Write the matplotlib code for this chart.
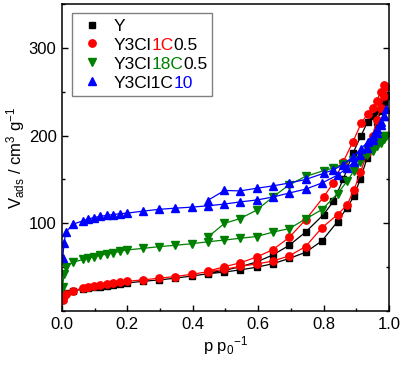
import matplotlib
matplotlib.use("Agg")
import matplotlib.pyplot as plt
from matplotlib.ticker import MultipleLocator

plt.rcParams["font.family"] = ["Liberation Sans", "DejaVu Sans"]
plt.rcParams["mathtext.fontset"] = "custom"
plt.rcParams["mathtext.rm"] = "Liberation Sans"
plt.rcParams["mathtext.it"] = "Liberation Sans"

# relative pressure, adsorption branch then desorption branch
x_ads = [0.002, 0.006, 0.012, 0.033, 0.065, 0.08, 0.097, 0.116, 0.136, 0.156, 0.177, 0.198,
         0.249, 0.297, 0.346, 0.397, 0.445, 0.497, 0.545, 0.595, 0.645, 0.695, 0.745, 0.795,
         0.843, 0.872, 0.893, 0.913, 0.933, 0.95, 0.963, 0.975, 0.985, 0.992]
x_des = [0.985, 0.975, 0.963, 0.95, 0.935, 0.915, 0.89, 0.86, 0.83, 0.8, 0.745, 0.695,
         0.645, 0.595, 0.545, 0.497, 0.445]

y_Y_ads = [14, 18, 21, 23, 25, 26, 27, 28, 29, 30, 31, 32, 34, 35.5, 37.5, 40, 42.5, 44.5,
           47, 50, 54, 60, 67, 80, 102, 118, 131, 151, 174, 198, 215, 228, 238, 245]
y_Y_des = [242, 236, 228, 222, 216, 200, 180, 150, 125, 110, 90, 75, 64, 56, 50.5, 46.5, 43.5]

y_1C_ads = [13, 17, 20, 23, 26.5, 27.5, 29, 30, 31, 32, 33, 34, 35.6, 37.5, 39.4, 42, 44.8,
            47.6, 51, 53.7, 57, 63, 73.5, 95, 110, 121, 138, 158, 180, 200, 218, 232, 245, 255]
y_1C_des = [258, 250, 240, 232, 225, 214, 193, 170, 146, 130, 104, 84, 70, 61.6, 55, 50.6, 45.5]

y_18C_ads = [28, 42, 50.6, 55.6, 59, 60.5, 62, 63.5, 65, 66.5, 68, 69.7, 71.5, 73.5, 75, 76.8,
             79, 81, 83, 85, 90, 94, 105, 115.6, 134, 148, 160, 170, 178, 183, 188, 192, 196, 200]
y_18C_des = [200, 195, 190, 187, 182, 176, 172, 168, 163, 160, 153.5, 144, 130, 115, 105.5, 100, 84]

y_10_ads = [60, 78, 90, 99, 103, 105, 106.5, 108, 109, 110, 111, 111.6, 114, 116, 117.3, 118.5,
            120, 122, 124.5, 126.6, 130, 134.6, 139, 146, 155, 163, 170, 178, 186, 195, 203,
            212, 222, 230]
y_10_des = [222, 215, 207, 200, 193, 185, 176, 167, 161, 157, 150, 146, 142.7, 140, 137,
            137.5, 126]

series = [
    ("Y", y_Y_ads, y_Y_des, "black", "s", 4.5),
    ("Y3Cl1C0.5", y_1C_ads, y_1C_des, "#ff0000", "o", 5.3),
    ("Y3Cl18C0.5", y_18C_ads, y_18C_des, "#008000", "v", 5.8),
    ("Y3Cl1C10", y_10_ads, y_10_des, "#0000ff", "^", 5.8),
]

fig = plt.figure(figsize=(4.03, 3.66), dpi=100)
ax = fig.add_axes([0.154, 0.150, 0.811, 0.839])

for name, ya, yd, col, mk, ms in series:
    ax.plot(x_ads + x_des, ya + yd, color=col, marker=mk, markersize=ms, lw=0.9,
            label=name)

ax.set_xlim(0, 1.0)
ax.set_ylim(0, 350)
ax.set_xticks([0, 0.2, 0.4, 0.6, 0.8, 1.0])
ax.set_xticklabels(["0.0", "0.2", "0.4", "0.6", "0.8", "1.0"])
ax.xaxis.set_minor_locator(MultipleLocator(0.1))
ax.set_yticks([100, 200, 300])
ax.yaxis.set_minor_locator(MultipleLocator(50))
ax.tick_params(which="both", direction="in", right=True, top=False, width=1.0,
               labelsize=12)
ax.tick_params(which="major", length=4, pad=4)
ax.tick_params(which="minor", length=2.5)
for s in ax.spines.values():
    s.set_linewidth(1.1)

ax.set_xlabel(r"p p$_0$$^{-1}$", fontsize=12, labelpad=2)
ax.set_ylabel(r"V$_{\rm ads}$ / cm$^3$ g$^{-1}$", fontsize=12, labelpad=1)

leg = ax.legend(loc="upper left", bbox_to_anchor=(0.03, 0.97), fontsize=12.5,
                frameon=True, fancybox=False, edgecolor="gray", framealpha=1,
                handlelength=1.7, handletextpad=0.4, labelspacing=0.22,
                borderpad=0.3, borderaxespad=0)
leg.get_frame().set_linewidth(1.0)
for h in leg.get_lines():
    h.set_linestyle("none")

# multi-coloured legend labels
pieces = {
    1: [("Y3Cl", "black"), ("1C", "#ff0000"), ("0.5", "black")],
    2: [("Y3Cl", "black"), ("18C", "#008000"), ("0.5", "black")],
    3: [("Y3Cl1C", "black"), ("10", "#0000ff")],
}
texts = leg.get_texts()
for i, parts in pieces.items():
    texts[i].set_alpha(0)
    prev = texts[i]
    xy = (0, 0)
    for txt, col in parts:
        prev = ax.annotate(txt, xy=xy, xycoords=prev, va="bottom", ha="left",
                           color=col, fontsize=12.5, zorder=10, annotation_clip=False)
        xy = (1, 0)

fig.savefig("out.png", dpi=100)
